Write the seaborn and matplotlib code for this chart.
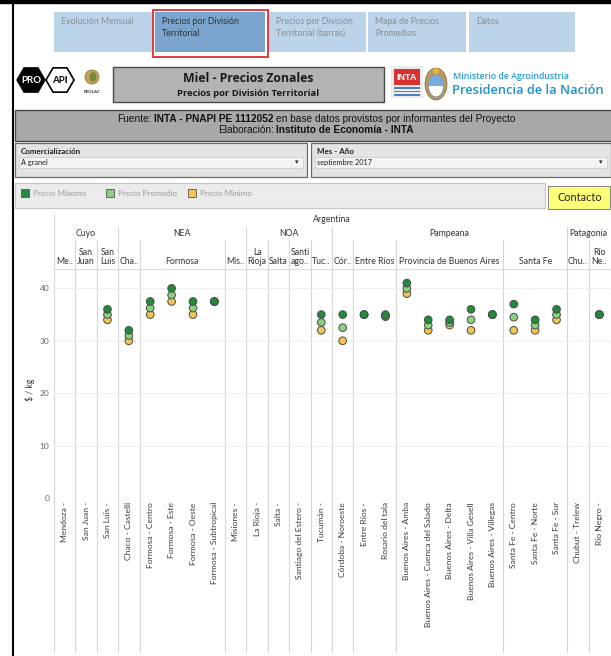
import numpy as np
import pandas as pd
import matplotlib
matplotlib.use("Agg")
import matplotlib.pyplot as plt
import matplotlib.patches as mpatches
import matplotlib.transforms as mtransforms
from matplotlib.offsetbox import TextArea, HPacker, AnnotationBbox
import seaborn as sns

# ---- data (septiembre 2017, a granel) ----
divisiones = [
    "Mendoza -", "San Juan -", "San Luis -", "Chaco - Castelli",
    "Formosa - Centro", "Formosa - Este", "Formosa - Oeste", "Formosa - Subtropical",
    "Misiones -", "La Rioja -", "Salta -", "Santiago del Estero -", "Tucumán -",
    "Córdoba - Noroeste", "Entre Ríos -", "Rosario del tala",
    "Buenos Aires - Amba", "Buenos Aires - Cuenca del Salado", "Buenos Aires - Delta",
    "Buenos Aires - Villa Gesell", "Buenos Aires - Villegas",
    "Santa Fe - Centro", "Santa Fe - Norte", "Santa Fe - Sur",
    "Chubut - Trelew", "Rio Negro -",
]
nan = np.nan
precio_maximo = [nan, nan, 36, 32, 37.5, 40, 37.5, 37.5, nan, nan, nan, nan, 35,
                 35, 35, 35, 41, 34, 34, 36, 35, 37, 34, 36, nan, 35]
precio_promedio = [nan, nan, 35, 31, 36.25, 38.75, 36.25, 37.5, nan, nan, nan, nan, 33.5,
                   32.5, 35, 34.8, 40, 33, 33.5, 34, 35, 34.5, 33, 35, nan, 35]
precio_minimo = [nan, nan, 34, 30, 35, 37.5, 35, 37.5, nan, nan, nan, nan, 32,
                 30, 35, 34.6, 39, 32, 33, 32, 35, 32, 32, 34, nan, 35]

provincias = ["Me..", "San\nJuan", "San\nLuis", "Cha..", "Formosa", "Mis..", "La\nRioja",
              "Salta", "Santi\nago..", "Tuc..", "Cór..", "Entre Ríos",
              "Provincia de Buenos Aires", "Santa Fe", "Chu..", "Río\nNe.."]
prov_span = [1, 1, 1, 1, 4, 1, 1, 1, 1, 1, 1, 2, 5, 3, 1, 1]
regiones = ["Cuyo", "NEA", "NOA", "Pampeana", "Patagonia"]
reg_span = [3, 6, 4, 11, 2]
y_ticks = [0, 10, 20, 30, 40]

tipos = ["Precio Mínimo", "Precio Promedio", "Precio Máximo"]
colores = {"Precio Máximo": "#218b3c", "Precio Promedio": "#8ad17f", "Precio Mínimo": "#f2c452"}

tabs = ["Evolución Mensual", "Precios por División\nTerritorial",
        "Precios por División\nTerritorial (barras)", "Mapa de Precios\nPromedios", "Datos"]

df = pd.DataFrame({"División": divisiones, "Precio Mínimo": precio_minimo,
                   "Precio Promedio": precio_promedio, "Precio Máximo": precio_maximo})
df = df.melt(id_vars="División", value_vars=tipos, var_name="Tipo", value_name="Precio").dropna()

sns.set_theme(style="white")
plt.rcParams["font.family"] = ["Lato", "DejaVu Sans"]

W, H = 611, 656
fig = plt.figure(figsize=(W / 100, H / 100), dpi=100)
fig.patch.set_facecolor("white")

# background layer in pixel coordinates (y down)
bg = fig.add_axes([0, 0, 1, 1])
bg.set_xlim(0, W)
bg.set_ylim(H, 0)
bg.axis("off")
bg.set_zorder(0)

ax = fig.add_axes([54 / W, (H - 498) / H, 556 / W, 229 / H])
ax.set_zorder(2)
ax.patch.set_visible(False)

sns.stripplot(data=df, x="División", y="Precio", hue="Tipo", order=divisiones,
              hue_order=tipos, palette=colores, jitter=False, dodge=False,
              size=5.5, linewidth=0.7, edgecolor="#4a4a4a", legend=False, ax=ax, zorder=3)

ax.set_xlim(-0.5, len(divisiones) - 0.5)
ax.set_ylim(0, 43.7)
ax.set_yticks(y_ticks)
ax.set_yticklabels([str(t) for t in y_ticks], fontsize=6, color="#666666")
ax.set_xticks(range(len(divisiones)))
ax.set_xticklabels(divisiones, rotation=90, va="top", ha="center", fontsize=6.1, color="#3a3a3a")
ax.tick_params(axis="both", length=0)
ax.tick_params(axis="x", pad=3)
ax.tick_params(axis="y", pad=3.5)
ax.grid(axis="y", color="#efefef", lw=0.8)
ax.grid(axis="x", visible=False)
ax.set_axisbelow(True)
ax.set_xlabel("")
ax.set_ylabel("")
for s in ax.spines.values():
    s.set_visible(False)

trans = mtransforms.blended_transform_factory(ax.transData, bg.transData)
sep_color = "#d6d6d6"
hdr = dict(fontsize=6.3, color="#333333")

# header rows and column separators
bg.plot([-0.5, -0.5], [213, 652], color=sep_color, lw=0.8, transform=trans)
bg.plot([-0.5, len(divisiones) - 0.5], [269, 269], color="#dcdcdc", lw=0.8, transform=trans)
bg.text((len(divisiones) - 1) / 2, 219, "Argentina", ha="center", va="center", transform=trans, **hdr)

reg_edges = list(np.cumsum(reg_span))
start = 0
for nombre, n in zip(regiones, reg_span):
    bg.text(start + n / 2 - 0.5, 234, nombre, ha="center", va="center", transform=trans, **hdr)
    start += n

start = 0
for nombre, n in zip(provincias, prov_span):
    bg.text(start + n / 2 - 0.5, 266.5, nombre, ha="center", va="bottom",
            linespacing=1.05, transform=trans, **hdr)
    start += n
    if start < len(divisiones):
        top = 227 if start in reg_edges else 240
        bg.plot([start - 0.5, start - 0.5], [top, 652], color=sep_color, lw=0.8, transform=trans)

bg.text(30, 390, "$ / kg", rotation=90, ha="center", va="center", fontsize=6.2, color="#333333")

# ---- dashboard chrome ----
bg.add_patch(mpatches.Rectangle((0, 0), W, 3, color="black"))
bg.plot([13, 13], [3, H], color="black", lw=1.5)

tab_x = [(54, 152), (155, 265), (269, 366), (368, 466), (469, 575)]
for i, (label, (x0, x1)) in enumerate(zip(tabs, tab_x)):
    sel = i == 1
    bg.add_patch(mpatches.Rectangle((x0, 12), x1 - x0, 40, facecolor="#7ba5cc" if sel else "#bcd4e9",
                                    edgecolor="none"))
    bg.text(x0 + 7, 17, label, ha="left", va="top", fontsize=6.3, linespacing=1.4,
            color="#2f2f2f" if sel else "#8c8c8c")
bg.add_patch(mpatches.Rectangle((153, 9.5), 115, 47.5, facecolor="none", edgecolor="#e03a3e", lw=1.4))

# PRO API logo
bg.add_patch(mpatches.RegularPolygon((31, 80), 6, radius=14, orientation=np.pi / 6,
                                     facecolor="black", edgecolor="black"))
bg.add_patch(mpatches.RegularPolygon((60, 80), 6, radius=14, orientation=np.pi / 6,
                                     facecolor="white", edgecolor="black", lw=1.2))
bg.text(31, 80.5, "PRO", ha="center", va="center", fontsize=7, weight="bold", color="white")
bg.text(60, 80.5, "API", ha="center", va="center", fontsize=7, weight="bold", color="black")
# REDLAC logo
bg.add_patch(mpatches.Circle((92, 77), 7, facecolor="#c9a15a", edgecolor="#9a7a3a", lw=0.6))
bg.add_patch(mpatches.Ellipse((93, 77), 7, 10, facecolor="#6f8f3a", edgecolor="none"))
bg.text(92, 92, "REDLAC", ha="center", va="center", fontsize=3.2, weight="bold", color="#333333")

# title box
bg.add_patch(mpatches.Rectangle((113, 67), 271, 35, facecolor="#b3b3b3", edgecolor="#4a4a4a", lw=1))
bg.text(248, 78, "Miel - Precios Zonales", ha="center", va="center", fontsize=8.8,
        weight="bold", color="#1a1a1a", family=["Open Sans", "DejaVu Sans"])
bg.text(248, 93.5, "Precios por División Territorial", ha="center", va="center", fontsize=6.8,
        weight="bold", color="#1a1a1a", family=["Open Sans", "DejaVu Sans"])

# INTA logo
bg.add_patch(mpatches.Rectangle((391, 66), 32, 32, facecolor="#ececec", edgecolor="none"))
bg.add_patch(mpatches.Rectangle((394, 69), 26, 16, facecolor="#d8322f", edgecolor="none"))
bg.text(407, 77.5, "INTA", ha="center", va="center", fontsize=6.5, weight="bold", color="white",
        family=["Liberation Sans Narrow", "Liberation Sans", "DejaVu Sans"])
for yy in (87, 90.5, 94):
    bg.add_patch(mpatches.Rectangle((394, yy), 26, 1.6, facecolor="#4f7fc2", edgecolor="none"))
# coat of arms
bg.add_patch(mpatches.Ellipse((436, 84), 22, 32, facecolor="#b89a5e", edgecolor="#7a6a4a", lw=0.5))
bg.add_patch(mpatches.Ellipse((436, 86), 15, 22, facecolor="white", edgecolor="#5b7fa6", lw=0.5))
upper = mpatches.Rectangle((428, 74), 16, 12, facecolor="#74acdf", edgecolor="none")
bg.add_patch(upper)
upper.set_clip_path(mpatches.Ellipse((436, 86), 15, 22, transform=bg.transData))
bg.add_patch(mpatches.Circle((436, 71), 3, facecolor="#e5b73b", edgecolor="none"))
bg.text(453, 76.5, "Ministerio de Agroindustria", ha="left", va="center", fontsize=6.3,
        weight="semibold", color="#2a9ad6", family=["Open Sans", "DejaVu Sans"])
bg.text(452, 90.5, "Presidencia de la Nación", ha="left", va="center", fontsize=9.3,
        weight="semibold", color="#1f8fd0", family=["Open Sans", "DejaVu Sans"])

# fuente box
bg.add_patch(mpatches.Rectangle((15, 110), 600, 31, facecolor="#a8a8a8", edgecolor="#4a4a4a", lw=1))
fuente = dict(fontsize=7.3, color="#111111", family=["Liberation Sans", "DejaVu Sans"])


def mixed_line(parts, xy):
    boxes = [TextArea(t, textprops=dict(weight="bold" if b else "normal", **fuente)) for t, b in parts]
    pack = HPacker(children=boxes, align="baseline", pad=0, sep=1.8)
    bg.add_artist(AnnotationBbox(pack, xy, xycoords=bg.transData, frameon=False,
                                 box_alignment=(0.5, 0.5), pad=0))


mixed_line([("Fuente:", False), ("INTA - PNAPI PE 1112052", True),
            ("en base datos provistos por informantes del Proyecto", False)], (316, 118.5))
mixed_line([("Elaboración:", False), ("Instituto de Economía - INTA", True)], (316, 130))

# filters
for (x0, x1), titulo, valor in [((15, 307), "Comercialización", "A granel"),
                                ((311, 611), "Mes - Año", "septiembre 2017")]:
    bg.add_patch(mpatches.Rectangle((x0, 143), x1 - x0, 34, facecolor="#e4e4e4", edgecolor="#6a6a6a", lw=0.9))
    bg.add_patch(mpatches.Rectangle((x0 + 4, 157), x1 - x0 - 8, 11, facecolor="#f3f3f3", edgecolor="#cfcfcf", lw=0.6))
    bg.text(x0 + 6, 151.5, titulo, ha="left", va="center", fontsize=5.8, weight="bold", color="#222222")
    bg.text(x0 + 6, 162.5, valor, ha="left", va="center", fontsize=5.3, color="#222222")
    bg.text(x1 - 10, 162.5, "▾", ha="center", va="center", fontsize=5, color="#333333",
            family=["DejaVu Sans"])

# legend box
bg.add_patch(mpatches.Rectangle((15, 183), 530, 25, facecolor="#ebebeb", edgecolor="#c4c4c4", lw=0.8))
for x0, t in zip([21, 106, 188], ["Precio Máximo", "Precio Promedio", "Precio Mínimo"]):
    bg.add_patch(mpatches.Rectangle((x0, 189), 8, 8, facecolor=colores[t], edgecolor="#555555", lw=0.6))
    bg.text(x0 + 12, 193, t, ha="left", va="center", fontsize=5.8, color="#9a9a9a")

bg.add_patch(mpatches.Rectangle((548, 186), 62, 23, facecolor="#ffff7a", edgecolor="#8a8a8a", lw=0.8))
bg.text(580, 197.5, "Contacto", ha="center", va="center", fontsize=7.8, color="#222222")

plt.savefig("out.png", dpi=100)
